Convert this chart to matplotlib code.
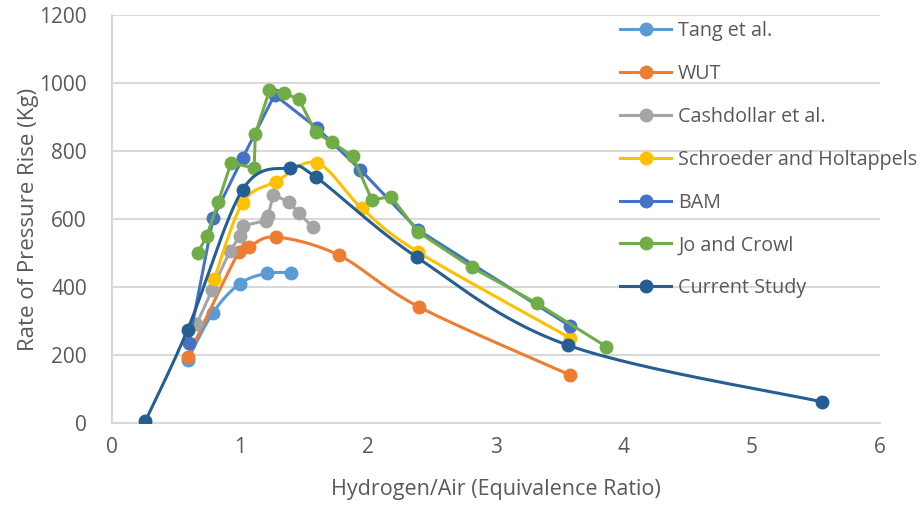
import numpy as np
import matplotlib
matplotlib.use("Agg")
import matplotlib.pyplot as plt

# Measured rate of pressure rise vs hydrogen/air equivalence ratio
tang_x = [0.59, 0.79, 1.00, 1.21, 1.40]
tang_y = [185, 325, 410, 440, 442]

wut_x = [0.59, 0.99, 1.07, 1.28, 1.77, 2.40, 3.58]
wut_y = [194, 503, 518, 547, 494, 341, 141]

cash_x = [0.66, 0.78, 0.92, 1.00, 1.02, 1.20, 1.22, 1.26, 1.38, 1.46, 1.57]
cash_y = [290, 390, 505, 550, 580, 595, 610, 672, 650, 618, 575]

schr_x = [0.80, 1.02, 1.28, 1.60, 1.95, 2.39, 3.58]
schr_y = [425, 647, 710, 765, 632, 503, 250]

bam_x = [0.60, 0.79, 1.02, 1.27, 1.60, 1.94, 2.39, 3.58]
bam_y = [235, 603, 779, 965, 868, 745, 568, 285]

jo_x = [0.67, 0.74, 0.83, 0.93, 1.11, 1.12, 1.23, 1.34, 1.46, 1.59, 1.72,
        1.88, 2.03, 2.18, 2.39, 2.81, 3.32, 3.86]
jo_y = [500, 550, 650, 765, 750, 850, 978, 970, 953, 855, 825,
        785, 656, 666, 562, 458, 352, 225]

cur_x = [0.26, 0.59, 1.02, 1.39, 1.59, 2.38, 3.56, 5.55]
cur_y = [5, 274, 686, 750, 724, 488, 229, 62]

TEXT = "#595959"
GRID = "#D9D9D9"


def smooth(x, y, n=30):
    # Catmull-Rom style bezier through the points (spreadsheet "smoothed line")
    p = np.column_stack([x, y]).astype(float)
    p = np.vstack([p[0], p, p[-1]])
    out = []
    for i in range(1, len(p) - 2):
        p0, p1, p2, p3 = p[i - 1], p[i], p[i + 1], p[i + 2]
        c1 = p1 + (p2 - p0) / 6.0
        c2 = p2 - (p3 - p1) / 6.0
        t = np.linspace(0, 1, n)[:, None]
        seg = ((1 - t) ** 3 * p1 + 3 * (1 - t) ** 2 * t * c1
               + 3 * (1 - t) * t ** 2 * c2 + t ** 3 * p2)
        out.append(seg if i == 1 else seg[1:])
    s = np.vstack(out)
    return s[:, 0], s[:, 1]


series = [
    ("Tang et al.", tang_x, tang_y, "#5B9BD5", True),
    ("WUT", wut_x, wut_y, "#ED7D31", True),
    ("Cashdollar et al.", cash_x, cash_y, "#A5A5A5", False),
    ("Schroeder and Holtappels", schr_x, schr_y, "#FFC000", True),
    ("BAM", bam_x, bam_y, "#4472C4", False),
    ("Jo and Crowl", jo_x, jo_y, "#70AD47", False),
    ("Current Study", cur_x, cur_y, "#255E91", True),
]

plt.rcParams["font.family"] = ["Open Sans", "DejaVu Sans"]

fig = plt.figure(figsize=(9.23, 5.05), dpi=100)
ax = fig.add_axes([112 / 923, 82 / 505, 768 / 923, 408 / 505])

handles = []
for i, (name, xs, ys, col, sm) in enumerate(series):
    lx, ly = smooth(xs, ys) if sm else (xs, ys)
    ax.plot(lx, ly, color=col, lw=2.2, zorder=3 + i, solid_capstyle="round")
    ax.plot(xs, ys, "o", color=col, ms=9, zorder=3 + i)
    h, = ax.plot([], [], color=col, lw=2.2, marker="o", ms=9)
    handles.append(h)

ax.set_xlim(0, 6)
ax.set_ylim(0, 1200)
ax.set_xticks(range(0, 7))
ax.set_yticks(range(0, 1201, 200))
ax.yaxis.grid(True, color=GRID, lw=1.5)
ax.set_axisbelow(True)
for s in ["top", "right"]:
    ax.spines[s].set_visible(False)
for s in ["left", "bottom"]:
    ax.spines[s].set_color(GRID)
    ax.spines[s].set_linewidth(1.5)
ax.tick_params(axis="y", length=0, labelsize=15, colors=TEXT, pad=18)
ax.tick_params(axis="x", length=0, labelsize=15, colors=TEXT, pad=10)
ax.set_xlabel("Hydrogen/Air (Equivalence Ratio)", fontsize=15.5, color=TEXT, labelpad=15)
ax.set_ylabel("Rate of Pressure Rise (Kg)", fontsize=16, color=TEXT, labelpad=0)

leg = fig.legend(handles, [s[0] for s in series], loc="upper left",
                 bbox_to_anchor=(620 / 923, 1 - 21 / 505), frameon=False,
                 fontsize=14.2, labelcolor=TEXT, numpoints=1,
                 handlelength=2.6, handletextpad=0.35, labelspacing=1.16,
                 borderpad=0, borderaxespad=0)

fig.savefig("out.png", dpi=100)
